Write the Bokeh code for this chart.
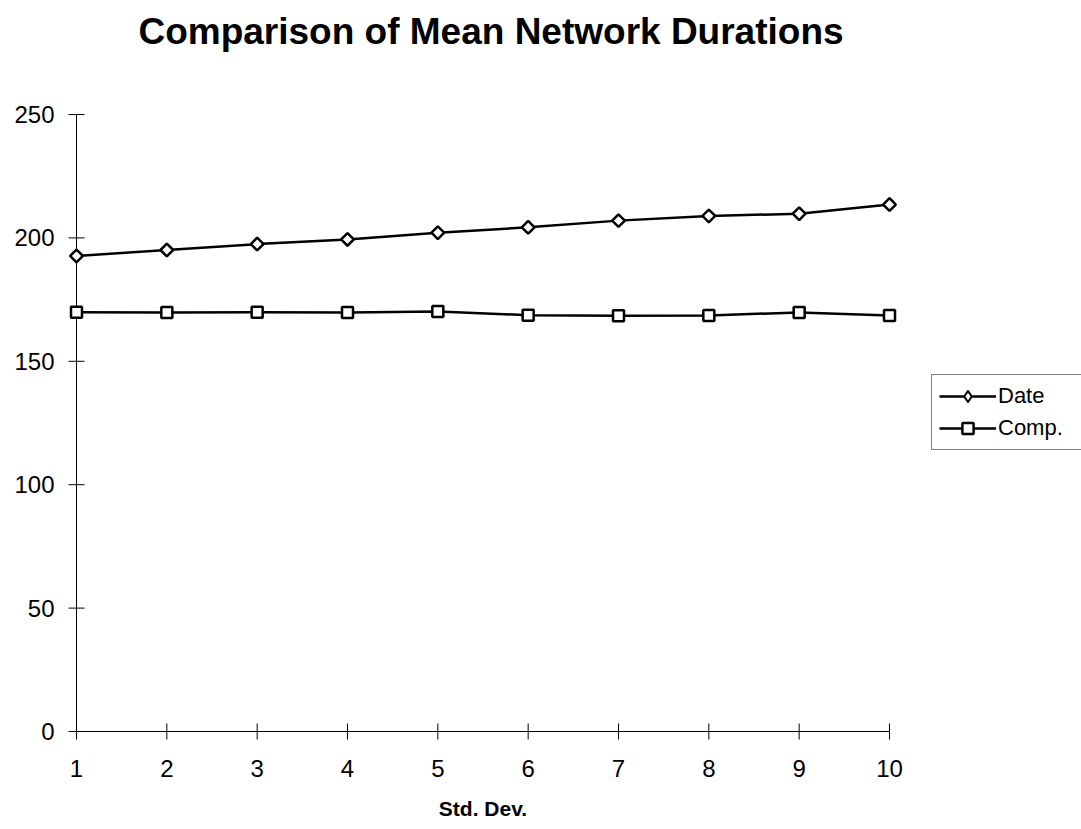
import math
from bokeh.plotting import figure
from bokeh.models import Range1d, Legend, LegendItem
from bokeh.core.properties import value
from bokeh.embed import file_html
from bokeh.resources import INLINE

# Data
std_dev = [1, 2, 3, 4, 5, 6, 7, 8, 9, 10]
date_vals = [192.7, 195.1, 197.5, 199.4, 202.1, 204.3, 207.0, 208.9, 209.8, 213.5]
comp_vals = [169.9, 169.8, 169.9, 169.8, 170.2, 168.7, 168.5, 168.6, 169.8, 168.6]
y_ticks = [0, 50, 100, 150, 200, 250]
x_ticks = std_dev
x_tick_labels = [str(v) for v in x_ticks]
y_tick_labels = [str(v) for v in y_ticks]
title_text = "Comparison of Mean Network Durations"
x_title = "Std. Dev."
series_names = ["Date", "Comp."]

FONT = "Liberation Sans"

W, H = 1081, 829
# plot area (axis box) position in the window
left, right, top, bottom = 76, 889, 114, 731
xmin, xmax = x_ticks[0], x_ticks[-1]
ymin, ymax = y_ticks[0], y_ticks[-1]
sx = (right - left) / (xmax - xmin)
sy = (bottom - top) / (ymax - ymin)

p = figure(width=W, height=H,
           x_range=Range1d(xmin - left / sx, xmax + (W - right) / sx),
           y_range=Range1d(ymin - (H - bottom) / sy, ymax + top / sy),
           output_backend="svg", toolbar_location=None,
           x_axis_location=None, y_axis_location=None,
           min_border=0)
p.grid.visible = False
p.outline_line_color = None
p.background_fill_color = "white"
p.border_fill_color = "white"

# axes
p.line([xmin, xmin], [ymin, ymax], line_color="black", line_width=1)
p.line([xmin, xmax], [ymin, ymin], line_color="black", line_width=1)
p.scatter([xmin] * len(y_ticks), y_ticks, marker="dash", size=16,
          line_color="black", line_width=1)
p.scatter(x_ticks, [ymin] * len(x_ticks), marker="dash", size=16, angle=math.pi / 2,
          line_color="black", line_width=1)
p.text([xmin] * len(y_ticks), y_ticks, text=y_tick_labels, x_offset=-22,
       text_align="right", text_baseline="middle", text_font=value(FONT),
       text_font_size="24px", text_color="black")
p.text(x_ticks, [ymin] * len(x_ticks), text=x_tick_labels, y_offset=37,
       text_align="center", text_baseline="middle", text_font=value(FONT),
       text_font_size="24px", text_color="black")
p.text([(xmin + xmax) / 2], [ymin], text=[x_title], y_offset=77,
       text_align="center", text_baseline="middle", text_font=value(FONT),
       text_font_size="21px", text_font_style="bold", text_color="black")
p.text([(xmin + xmax) / 2], [ymax], text=[title_text], x_offset=8, y_offset=-83,
       text_align="center", text_baseline="middle", text_font=value(FONT),
       text_font_size="37px", text_font_style="bold", text_color="black")

# series
l1 = p.line(std_dev, date_vals, line_color="black", line_width=2.5)
m1 = p.scatter(std_dev, date_vals, marker="square", size=9, angle=math.pi / 4,
               fill_color="white", line_color="black", line_width=2.5)
l2 = p.line(std_dev, comp_vals, line_color="black", line_width=2.5)
m2 = p.scatter(std_dev, comp_vals, marker="square", size=11,
               fill_color="white", line_color="black", line_width=2.5)
# legend-only glyph for the diamond symbol (rotation is not applied in legends);
# its single point is NaN so nothing is drawn in the plot area
m1_key = p.scatter([float("nan")], [float("nan")], marker="diamond", fill_color="white",
                   line_color="black", line_width=2)

legend = Legend(items=[LegendItem(label=series_names[0], renderers=[l1, m1_key]),
                       LegendItem(label=series_names[1], renderers=[l2, m2])],
                location=(931, H - 450))
legend.label_text_font = FONT
legend.label_text_font_size = "22px"
legend.label_text_color = "black"
legend.label_text_baseline = "middle"
legend.glyph_width = 57
legend.glyph_height = 28
legend.label_height = 28
legend.label_width = 80
legend.label_standoff = 2
legend.padding = 7
legend.spacing = 4
legend.margin = 0
legend.border_line_color = "black"
legend.border_line_width = 1
legend.background_fill_alpha = 1
p.add_layout(legend, "center")

open("out.html", "w").write(file_html(p, INLINE))
